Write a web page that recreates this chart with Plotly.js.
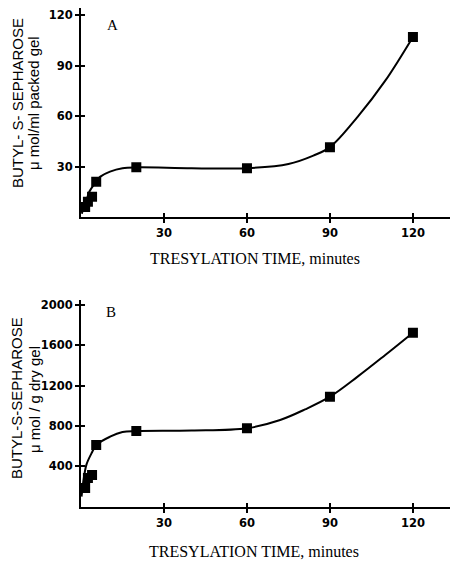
<!DOCTYPE html>
<html>
<head>
<meta charset="utf-8">
<script src="https://cdn.plot.ly/plotly-3.0.1.min.js"></script>
<style>
html,body{margin:0;padding:0;background:#fff;}
#chart{width:451px;height:561px;}
</style>
</head>
<body>
<div id="chart"></div>
<script>
// Measured points (minutes, value)
var timeA = [1.5, 2.5, 4, 5.5, 20, 60, 90, 120];
var valueA = [6, 9, 12, 21, 29.5, 29, 41.5, 107];
var timeB = [1.5, 2.5, 4, 5.5, 20, 60, 90, 120];
var valueB = [185, 285, 314, 612, 751, 778, 1091, 1726];

// Fitted curves
var curveTimeA = [0.3, 1, 2, 3, 5.5, 7, 10.5, 15, 20, 40, 60, 75, 84, 90, 100, 110, 120];
var curveValueA = [2, 6, 10, 15, 21, 24, 27, 29, 29.5, 29, 29, 31.5, 36.5, 41.5, 59.5, 81, 107];
var curveTimeB = [0.2, 1, 2, 4, 5.5, 10.5, 15, 20, 40, 60, 72, 81, 90, 100, 110, 120];
var curveValueB = [100, 280, 420, 540, 612, 694, 740, 750, 755, 778, 860, 965, 1091, 1290, 1505, 1726];

var xTicks = [30, 60, 90, 120];
var yTicksA = [30, 60, 90, 120];
var yTicksB = [400, 800, 1200, 1600, 2000];

var W = 451, H = 561;
function px(x){ return x / W; }
function py(y){ return 1 - y / H; }

var tickFont = {family: 'DejaVu Sans', size: 11.5, color: '#000', weight: 'bold'};

var traces = [
  {x: curveTimeA, y: curveValueA, xaxis: 'x', yaxis: 'y', mode: 'lines',
   line: {color: '#000', width: 2, shape: 'spline', smoothing: 1}, hoverinfo: 'skip'},
  {x: timeA, y: valueA, xaxis: 'x', yaxis: 'y', mode: 'markers',
   marker: {symbol: 'square', size: 10, color: '#000'}},
  {x: curveTimeB, y: curveValueB, xaxis: 'x2', yaxis: 'y2', mode: 'lines',
   line: {color: '#000', width: 2, shape: 'spline', smoothing: 1}, hoverinfo: 'skip'},
  {x: timeB, y: valueB, xaxis: 'x2', yaxis: 'y2', mode: 'markers',
   marker: {symbol: 'square', size: 10, color: '#000'}},
  // empty traces that register the overlay axes carrying the inner tick halves
  {x: [], y: [], xaxis: 'x3', yaxis: 'y3', mode: 'markers', hoverinfo: 'skip'},
  {x: [], y: [], xaxis: 'x4', yaxis: 'y4', mode: 'markers', hoverinfo: 'skip'}
];

var xDomain = [px(81), px(450)];
var xRange = [0, 133.4];

function axisBase(){
  return {
    ticks: 'outside', ticklen: 4, tickwidth: 2, tickcolor: '#000',
    showgrid: false, zeroline: false, tickfont: tickFont, fixedrange: true
  };
}
function xAxis(anchor){
  var a = axisBase();
  a.domain = xDomain; a.anchor = anchor; a.range = xRange;
  a.tickvals = xTicks; a.ticktext = xTicks.map(String);
  a.showline = true; a.linecolor = '#000'; a.linewidth = 2;
  return a;
}
function yAxis(domain, range, ticks, anchor){
  var a = axisBase();
  a.domain = domain; a.anchor = anchor; a.range = range;
  a.tickvals = ticks; a.ticktext = ticks.map(String);
  a.showline = true; a.linecolor = '#000'; a.linewidth = 2;
  return a;
}
// inner half of the cross-shaped ticks
function innerX(over, anchor){
  var a = axisBase();
  a.overlaying = over; a.anchor = anchor; a.range = xRange; a.domain = xDomain;
  a.tickvals = xTicks; a.ticks = 'inside'; a.showticklabels = false; a.showline = false;
  return a;
}
function innerY(over, anchor, domain, range, ticks){
  var a = axisBase();
  a.overlaying = over; a.anchor = anchor; a.range = range; a.domain = domain;
  a.tickvals = ticks; a.ticks = 'inside'; a.showticklabels = false; a.showline = false;
  return a;
}

var titleFont = {family: 'Liberation Sans', size: 15, color: '#000'};
var serifFont = {family: 'Liberation Serif', size: 16, color: '#000'};

function ann(text, x, y, font, angle){
  return {text: text, x: px(x), y: py(y), xref: 'paper', yref: 'paper',
          xanchor: 'center', yanchor: 'middle', showarrow: false,
          textangle: angle || 0, font: font};
}

var domA = [py(217), py(8.3)], rangeA = [0, 124];
var domB = [py(506.7), py(300)], rangeB = [0, 2050];

var layout = {
  width: W, height: H,
  margin: {l: 0, r: 0, t: 0, b: 0},
  paper_bgcolor: '#fff', plot_bgcolor: 'rgba(0,0,0,0)',
  showlegend: false,
  xaxis: xAxis('y'),
  yaxis: yAxis(domA, rangeA, yTicksA, 'x'),
  xaxis2: xAxis('y2'),
  yaxis2: yAxis(domB, rangeB, yTicksB, 'x2'),
  xaxis3: innerX('x', 'y'),
  yaxis3: innerY('y', 'x', domA, rangeA, yTicksA),
  xaxis4: innerX('x2', 'y2'),
  yaxis4: innerY('y2', 'x2', domB, rangeB, yTicksB),
  annotations: [
    ann('A', 112, 25, {family: 'Liberation Serif', size: 15, color: '#000'}),
    ann('B', 111, 312, {family: 'Liberation Serif', size: 15, color: '#000'}),
    ann('BUTYL- S- SEPHAROSE', 17, 103, titleFont, -90),
    ann('μ mol/ml packed gel', 33, 103, titleFont, -90),
    ann('BUTYL-S-SEPHAROSE', 16, 398, titleFont, -90),
    ann('μ mol / g dry gel', 34, 400, titleFont, -90),
    ann('TRESYLATION TIME, minutes', 255, 258, serifFont),
    ann('TRESYLATION TIME, minutes', 254, 551, serifFont)
  ]
};

Plotly.newPlot('chart', traces, layout, {displayModeBar: false, staticPlot: true});
</script>
</body>
</html>
